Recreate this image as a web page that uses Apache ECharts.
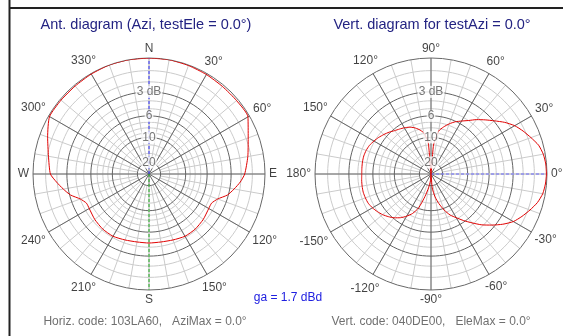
<!DOCTYPE html>
<html><head><meta charset="utf-8">
<script src="https://cdn.jsdelivr.net/npm/echarts@6/dist/echarts.min.js"></script>
<style>html,body{margin:0;padding:0;background:#fff}#c{width:563px;height:336px}</style>
</head><body><div id="c"></div>
<script>
// Azimuth pattern (relative field strength, linear 0..1) vs azimuth degrees (clockwise from N)
const azAngles = [0,10,20,30,40,50,60,70,80,90,95,100,105,110,115,120,130,140,150,160,170,180,190,200,210,220,230,240,245,250,255,260,265,270,280,290,300,310,320,330,340,350,360];
const azField  = [1.0,1.0,0.995,0.99,0.985,0.985,0.985,0.91,0.865,0.825,0.79,0.745,0.70,0.63,0.595,0.595,0.61,0.62,0.62,0.605,0.595,0.595,0.595,0.605,0.62,0.62,0.61,0.595,0.595,0.63,0.70,0.75,0.80,0.85,0.88,0.93,0.99,0.99,0.99,0.995,1.0,1.0,1.0];
// Elevation pattern (relative field strength) vs elevation degrees
const elAngles = [-180,-175,-170,-165,-160,-155,-150,-145,-140,-135,-130,-125,-120,-115,-110,-105,-100,-95,-90,
  -85,-80,-75,-70,-65,-60,-55,-50,-45,-40,-35,-30,-25,-20,-15,-10,-5,0,5,10,15,20,25,30,35,40,45,50,55,60,65,70,75,80,85,90,
  95,100,105,110,115,120,125,130,135,140,145,150,155,160,165,170,175,180];
const elField  = [0.597,0.60,0.603,0.605,0.602,0.597,0.583,0.565,0.545,0.52,0.493,0.46,0.42,0.375,0.31,0.2,0.12,0.06,0.0,
  0.12,0.2,0.265,0.33,0.39,0.435,0.49,0.55,0.62,0.685,0.755,0.82,0.865,0.908,0.95,0.978,0.99,0.995,0.993,0.983,0.96,0.917,0.876,0.833,0.776,0.713,0.66,0.612,0.563,0.527,0.497,0.46,0.42,0.375,0.25,0.0,
  0.27,0.36,0.397,0.425,0.445,0.46,0.473,0.488,0.51,0.53,0.55,0.568,0.585,0.595,0.60,0.60,0.598,0.597];
// dB rings
const dbMajor = [3,6,10,20];
const dbMajorLabels = ['3 dB','6','10','20'];
const dbMinor = [1,2,4,5,7,8,9,12,15];
// angle tick labels
const azTicks = [0,30,60,90,120,150,180,210,240,270,300,330];
const azTickLabels = ['N','30°','60°','E','120°','150°','S','210°','240°','W','300°','330°'];
const elTicks = [-150,-120,-90,-60,-30,0,30,60,90,120,150,180];
const elTickLabels = ['-150°','-120°','-90°','-60°','-30°','0°','30°','60°','90°','120°','150°','180°'];
const aziMax = 0.0, eleMax = 0.0;
const leftTitle = 'Ant. diagram (Azi, testEle = 0.0°)';
const rightTitle = 'Vert. diagram for testAzi = 0.0°';
const gainText = 'ga = 1.7 dBd';
const horizText = 'Horiz. code: 103LA60,   AziMax = 0.0°';
const vertText = 'Vert. code: 040DE00,   EleMax = 0.0°';

const FONT = 'Liberation Sans, Arial, sans-serif';
const dbToR = db => Math.pow(10, -db / 20);
const chart = echarts.init(document.getElementById('c'));

const LC = [149, 174], RC = [431, 174], R = 116;
const inner = R * dbToR(20);
const LBL_FS = 12;
const mctx = document.createElement('canvas').getContext('2d');
mctx.font = LBL_FS + 'px ' + FONT;
// radial distance (in axis units) that puts a label's box just outside the circle
function labelRadius(text, screenDeg) {
  const w = mctx.measureText(text).width, h = 11, t = screenDeg * Math.PI / 180;
  return 1 + (4 + Math.abs(w / 2 * Math.cos(t)) + Math.abs(h / 2 * Math.sin(t))) / R;
}

function ringSeries(polarIndex, db, color, z, a0) {
  const pts = [];
  for (let a = 0; a <= 360; a += 3) pts.push([dbToR(db), a0 + a]);
  return {type:'line', coordinateSystem:'polar', polarIndex, data:pts, showSymbol:false, silent:true,
    lineStyle:{color, width:1}, z, animation:false};
}
const series = [];
[[0,0],[2,-180]].forEach(([pi,a0]) => {
  dbMinor.forEach(d => series.push(ringSeries(pi, d, '#cbcbcb', 1, a0)));
  dbMajor.forEach(d => series.push(ringSeries(pi, d, '#646464', 3, a0)));
  series.push({type:'scatter', coordinateSystem:'polar', polarIndex:pi, symbolSize:1, silent:true, clip:false,
    itemStyle:{color:'rgba(0,0,0,0)'}, z:8,
    data: dbMajor.map((d,i)=>({value:[dbToR(d), pi===0?0:90], name:dbMajorLabels[i]})),
    label:{show:true, position:'inside', formatter:p=>p.name, color:'#555', fontSize:12, fontFamily:FONT,
      backgroundColor:'#fff', padding:[0,1,0,1]}});
});
// angle labels
series.push({type:'scatter', coordinateSystem:'polar', polarIndex:0, symbolSize:1, silent:true, clip:false, itemStyle:{color:'rgba(0,0,0,0)'}, z:8,
  data: azTicks.map((a,i)=>({value:[labelRadius(azTickLabels[i], 90 - a), a], name:azTickLabels[i]})),
  label:{show:true, position:'inside', formatter:p=>p.name, color:'#111', fontSize:LBL_FS, fontFamily:FONT}});
series.push({type:'scatter', coordinateSystem:'polar', polarIndex:2, symbolSize:1, silent:true, clip:false, itemStyle:{color:'rgba(0,0,0,0)'}, z:8,
  data: elTicks.map((a,i)=>({value:[labelRadius(elTickLabels[i], a), a], name:elTickLabels[i]})),
  label:{show:true, position:'inside', formatter:p=>p.name, color:'#111', fontSize:LBL_FS, fontFamily:FONT}});
// max-direction markers (white underlay so the dash gaps show white, then the dashed line)
const markers = [[0, aziMax, '#3333ff'], [0, aziMax + 180, '#20b020'], [2, eleMax, '#6b6bff']];
markers.forEach(([pi, ang, col]) => {
  series.push({type:'line', coordinateSystem:'polar', polarIndex:pi, data:[[inner / R, ang],[1, ang]], showSymbol:false, silent:true,
    lineStyle:{color:'#ffffff', width:1}, z:4});
  series.push({type:'line', coordinateSystem:'polar', polarIndex:pi, data:[[0, ang],[1, ang]], showSymbol:false, silent:true,
    lineStyle:{color:col, width:1, type:[3,2]}, z:5});
});
// patterns
series.push({type:'line', coordinateSystem:'polar', polarIndex:0, data:azAngles.map((a,i)=>[azField[i], a]),
  showSymbol:false, smooth:0.2, lineStyle:{color:'#e00000', width:1}, z:6});
series.push({type:'line', coordinateSystem:'polar', polarIndex:2, data:elAngles.map((a,i)=>[elField[i], a]),
  showSymbol:false, smooth:0.2, lineStyle:{color:'#e00000', width:1}, z:6});

const radHidden = pi => ({polarIndex:pi, type:'value', min:0, max:1, axisLine:{show:false}, axisTick:{show:false}, axisLabel:{show:false}, splitLine:{show:false}});
const angAxis = (pi, min, max, interval, startAngle, clockwise, dark) => ({
  polarIndex:pi, type:'value', min, max, interval, startAngle, clockwise, z: dark ? 2 : 0,
  axisLine:{show:dark, lineStyle:{color:'#686868', width:1}}, axisTick:{show:false}, axisLabel:{show:false},
  splitLine:{show:true, lineStyle:{color: dark ? '#686868' : '#cbcbcb', width:1}}});

const option = {
  animation:false,
  polar:[
    {center:LC, radius:R},
    {center:LC, radius:[inner, R]},
    {center:RC, radius:R},
    {center:RC, radius:[inner, R]}
  ],
  angleAxis:[
    angAxis(0, 0, 360, 30, 90, true, true),
    angAxis(1, 0, 360, 10, 90, true, false),
    angAxis(2, -180, 180, 30, 180, false, true),
    angAxis(3, -180, 180, 10, 180, false, false)
  ],
  radiusAxis:[radHidden(0), radHidden(1), radHidden(2), radHidden(3)],
  series,
  graphic:[
    {type:'line', shape:{x1:9.5, y1:0, x2:9.5, y2:336}, style:{stroke:'#222', lineWidth:2}},
    {type:'line', shape:{x1:9, y1:8, x2:563, y2:8}, style:{stroke:'#222', lineWidth:2}},
    {type:'text', x:146, y:25, style:{text:leftTitle, textAlign:'center', textVerticalAlign:'middle', fill:'#232382', font:'14.5px '+FONT}},
    {type:'text', x:432, y:25, style:{text:rightTitle, textAlign:'center', textVerticalAlign:'middle', fill:'#232382', font:'14.5px '+FONT}},
    {type:'text', x:288, y:298, style:{text:gainText, textAlign:'center', textVerticalAlign:'middle', fill:'#2020e0', font:'12px '+FONT}},
    {type:'text', x:145, y:322, style:{text:horizText, textAlign:'center', textVerticalAlign:'middle', fill:'#707070', font:'12px '+FONT}},
    {type:'text', x:431, y:322, style:{text:vertText, textAlign:'center', textVerticalAlign:'middle', fill:'#707070', font:'12px '+FONT}}
  ]
};
chart.setOption(option);
</script></body></html>
